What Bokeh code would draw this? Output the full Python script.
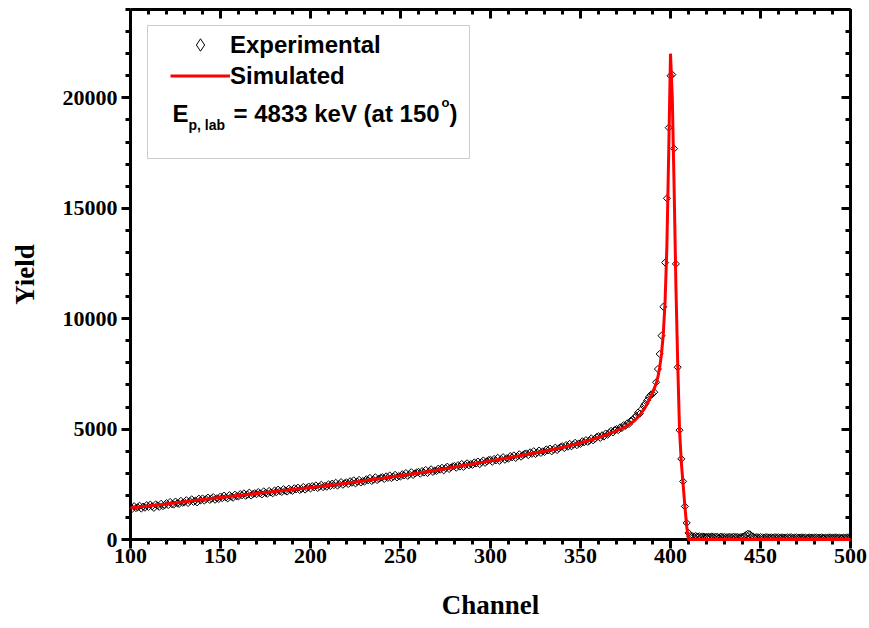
import math
from bokeh.plotting import figure
from bokeh.models import (Range1d, LinearAxis, SingleIntervalTicker, Legend,
                          LegendItem, Label, BoxAnnotation)
from bokeh.embed import file_html
from bokeh.resources import INLINE

# ---------------- data ----------------
exp_channel = list(range(100, 501))
exp_yield = [
    1480, 1390, 1510, 1420, 1460, 1530, 1400, 1490, 1440, 1560,
    1470, 1580, 1500, 1430, 1590, 1540, 1480, 1620, 1510, 1560,
    1650, 1560, 1700, 1600, 1580, 1720, 1640, 1610, 1750, 1660,
    1690, 1780, 1650, 1740, 1820, 1700, 1760, 1680, 1850, 1770,
    1860, 1760, 1830, 1900, 1790, 1850, 1920, 1800, 1870, 1830,
    1950, 1870, 1990, 1900, 1860, 2010, 1940, 1890, 2030, 1960,
    1950, 2060, 2000, 2090, 1980, 2030, 2120, 1990, 2060, 2100,
    2050, 2150, 2090, 2040, 2180, 2110, 2070, 2200, 2130, 2090,
    2220, 2140, 2260, 2190, 2150, 2280, 2210, 2170, 2300, 2240,
    2200, 2320, 2270, 2350, 2240, 2290, 2380, 2260, 2330, 2400,
    2310, 2420, 2360, 2450, 2330, 2400, 2480, 2370, 2430, 2390,
    2500, 2420, 2530, 2460, 2570, 2440, 2510, 2600, 2480, 2550,
    2590, 2510, 2640, 2570, 2680, 2540, 2620, 2700, 2580, 2650,
    2620, 2730, 2680, 2790, 2650, 2710, 2820, 2690, 2750, 2800,
    2820, 2740, 2860, 2790, 2900, 2780, 2850, 2930, 2810, 2870,
    2850, 2960, 2900, 3010, 2880, 2950, 3050, 2920, 2990, 3040,
    3060, 2980, 3100, 3030, 3150, 3010, 3090, 3180, 3060, 3120,
    3100, 3210, 3160, 3250, 3130, 3230, 3300, 3190, 3260, 3310,
    3330, 3250, 3370, 3300, 3420, 3290, 3380, 3450, 3360, 3420,
    3380, 3490, 3440, 3530, 3410, 3500, 3580, 3470, 3540, 3600,
    3610, 3520, 3650, 3580, 3700, 3560, 3640, 3730, 3610, 3680,
    3660, 3780, 3720, 3810, 3690, 3770, 3860, 3750, 3820, 3880,
    3900, 3820, 3950, 3880, 4000, 3870, 3940, 4030, 3920, 3990,
    3960, 4080, 4030, 4120, 3990, 4070, 4160, 4050, 4130, 4190,
    4220, 4140, 4280, 4200, 4330, 4220, 4300, 4380, 4270, 4350,
    4330, 4450, 4400, 4500, 4420, 4480, 4580, 4490, 4560, 4640,
    4680, 4600, 4720, 4660, 4800, 4740, 4830, 4920, 4850, 4960,
    5000, 4950, 5080, 5050, 5180, 5150, 5260, 5230, 5380, 5420,
    5520, 5600, 5750, 5700, 5900, 6050, 6150, 6300, 6450, 6550,
    6600, 6670, 7120, 7720, 8400, 9230, 10540, 12540, 15450, 18650,
    21000, 21050, 17700, 12480, 7800, 4950, 3650, 2630, 1500, 750,
    300, 160,
    150, 140, 160, 130, 150, 120, 140, 130, 110, 130,
    120, 140, 110, 130, 120, 100, 130, 110, 120, 100,
    110, 120, 100, 130, 110, 120, 100, 110, 130, 150,
    210, 260, 240, 170, 120, 100, 110, 90, 110, 100,
    90, 110, 100, 80, 100, 90, 110, 90, 100, 80,
    100, 90, 80, 100, 90, 110, 80, 90, 100, 80,
    90, 100, 80, 90, 70, 100, 90, 80, 90, 100,
    80, 90, 100, 70, 90, 80, 100, 90, 80, 90,
    100, 80, 90, 70, 90, 80, 100, 90, 80,
]

sim_channel = [100, 110, 120, 130, 140, 150, 160, 170, 180, 190,
               200, 210, 220, 230, 240, 250, 260, 270, 280, 290,
               300, 310, 320, 330, 340, 350, 360, 365, 370, 375,
               380, 383, 386, 388, 390, 392, 393, 394, 395, 396,
               397, 398, 399, 400, 401, 402, 403, 404, 405, 406,
               407, 408, 409, 410, 500]
sim_yield = [1430, 1520, 1610, 1710, 1810, 1900, 1990, 2080, 2170, 2260,
             2350, 2450, 2550, 2660, 2770, 2890, 3010, 3140, 3280, 3420,
             3560, 3700, 3850, 4000, 4170, 4370, 4620, 4760, 4920, 5100,
             5380, 5640, 5980, 6300, 6650, 7050, 7350, 7800, 8400, 9300,
             10800, 13300, 17500, 22000, 20000, 16000, 11500, 8000, 5000, 3500,
             2500, 1500, 600, 0, 0]

x_label = "Channel"
y_label = "Yield"
legend_labels = ["Experimental", "Simulated"]

# ---------------- figure ----------------
p = figure(width=869, height=628, output_backend="svg", toolbar_location=None,
           x_range=Range1d(100, 500), y_range=Range1d(0, 24000),
           min_border_left=130, min_border_right=19, min_border_top=9,
           min_border_bottom=89)
p.outline_line_color = None
p.grid.visible = False
p.background_fill_color = "white"
p.border_fill_color = "white"

TICK_FONT = "Liberation Serif"


def style_axis(ax, inside, labels):
    ax.axis_line_width = 3
    ax.axis_line_color = "black"
    ax.major_tick_line_width = 3
    ax.minor_tick_line_width = 3
    ax.major_tick_line_color = "black"
    ax.minor_tick_line_color = "black"
    if inside:
        ax.major_tick_in, ax.major_tick_out = 9, 0
        ax.minor_tick_in, ax.minor_tick_out = 5, 0
    else:
        ax.major_tick_in, ax.major_tick_out = 0, 9
        ax.minor_tick_in, ax.minor_tick_out = 0, 5
    if labels:
        ax.major_label_text_font = TICK_FONT
        ax.major_label_text_font_style = "bold"
        ax.major_label_text_font_size = "22px"
        ax.major_label_text_color = "black"
        ax.axis_label_text_font = TICK_FONT
        ax.axis_label_text_font_style = "bold"
        ax.axis_label_text_font_size = "27px"
        ax.axis_label_text_color = "black"
    else:
        ax.major_label_text_font_size = "0px"
        ax.major_label_text_color = None
        ax.major_label_standoff = 0


xb = p.below[0]
xb.ticker = SingleIntervalTicker(interval=50, num_minor_ticks=5)
xb.axis_label = x_label
style_axis(xb, False, True)
xb.major_label_standoff = 0
xb.axis_label_standoff = 24

yl = p.left[0]
yl.ticker = SingleIntervalTicker(interval=5000, num_minor_ticks=5)
yl.axis_label = y_label
style_axis(yl, False, True)
yl.major_label_standoff = 4
yl.axis_label_standoff = 20

xt = LinearAxis(ticker=SingleIntervalTicker(interval=50, num_minor_ticks=5))
style_axis(xt, True, False)
p.add_layout(xt, "above")

yr = LinearAxis(ticker=SingleIntervalTicker(interval=5000, num_minor_ticks=5))
style_axis(yr, True, False)
p.add_layout(yr, "right")

# ---------------- data glyphs ----------------
r_exp = p.scatter(exp_channel, exp_yield, marker="square", angle=math.pi / 4,
                  size=5, fill_color=None, line_color="black", line_width=1)
r_sim = p.line(sim_channel, sim_yield, line_color="#ff0000", line_width=3,
               level="overlay")
# legend sample for the open diamond (drawn on top of the first measured point)
r_exp_key = p.scatter(exp_channel[:1], exp_yield[:1], marker="diamond", size=9,
                      fill_color=None, line_color="black", line_width=1)

# ---------------- legend box ----------------
box = BoxAnnotation(left=17, right=339, top=514, bottom=381,
                    left_units="screen", right_units="screen",
                    top_units="screen", bottom_units="screen",
                    fill_alpha=0, line_color="#555555", line_width=1)
p.add_layout(box)

legend = Legend(items=[LegendItem(label=legend_labels[0], renderers=[r_exp_key]),
                       LegendItem(label=legend_labels[1], renderers=[r_sim])],
                location=(40, 448), orientation="vertical",
                border_line_alpha=0, background_fill_alpha=0,
                padding=0, margin=0, spacing=0,
                glyph_width=60, glyph_height=31, label_height=31,
                label_standoff=0,
                label_text_font="Liberation Sans", label_text_font_style="bold",
                label_text_font_size="24px", label_text_color="black")
p.add_layout(legend)

LF = "Liberation Sans"
common = dict(x_units="screen", y_units="screen", text_font=LF,
              text_font_style="bold", text_color="black",
              text_baseline="alphabetic")
p.add_layout(Label(x=42, y=426, text="E", text_font_size="24px", **common))
p.add_layout(Label(x=58, y=415, text="p, lab", text_font_size="14px", **common))
p.add_layout(Label(x=103, y=426, text="= 4833 keV (at 150", text_font_size="24px", **common))
p.add_layout(Label(x=311, y=437, text="o", text_font_size="13px", **common))
p.add_layout(Label(x=319, y=426, text=")", text_font_size="24px", **common))

open("out.html", "w").write(file_html(p, INLINE))
